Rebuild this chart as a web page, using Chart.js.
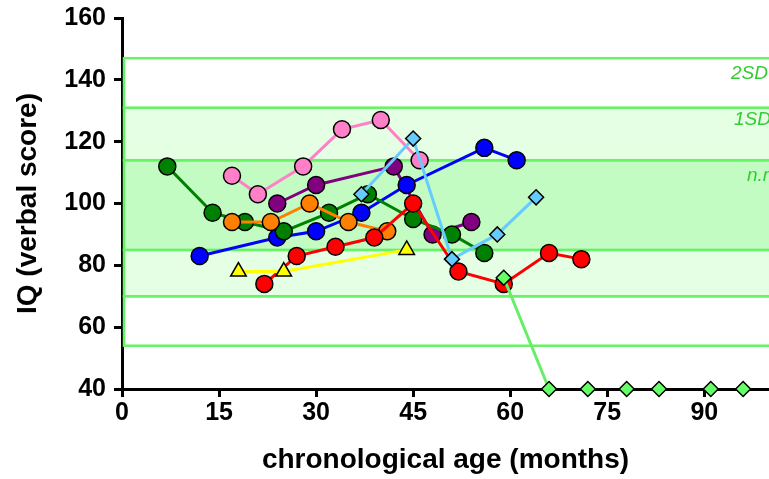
<!DOCTYPE html>
<html>
<head>
<meta charset="utf-8">
<script src="https://cdn.jsdelivr.net/npm/chart.js@4"></script>
<style>
  html, body { margin: 0; padding: 0; background: #fff; }
</style>
</head>
<body>
<canvas id="iqChart" width="769" height="479"></canvas>
<script>
// axis ticks
const xTicks = [0, 15, 30, 45, 60, 75, 90];
const yTicks = [40, 60, 80, 100, 120, 140, 160];

// reference bands (IQ ranges)
const bandLow = [54, 70, 85, 114, 131];
const bandHigh = [70, 85, 114, 131, 147];
const bandLabels = ["2SD", "1SD", "n.r."];
const bandLabelIQ = [142, 127, 109];

// one pair of arrays per child: age (months) and verbal IQ
const darkGreenAge = [7, 14, 19, 25, 32, 38, 45, 51, 56];
const darkGreenIQ = [112, 97, 94, 91, 97, 103, 95, 90, 84];
const orangeAge = [17, 23, 29, 35, 41];
const orangeIQ = [94, 94, 100, 94, 91];
const pinkAge = [17, 21, 28, 34, 40, 46];
const pinkIQ = [109, 103, 112, 124, 127, 114];
const purpleAge = [24, 30, 42, 48, 54];
const purpleIQ = [100, 106, 112, 90, 94];
const blueAge = [12, 24, 30, 37, 44, 56, 61];
const blueIQ = [83, 89, 91, 97, 106, 118, 114];
const redAge = [22, 27, 33, 39, 45, 52, 59, 66, 71];
const redIQ = [74, 83, 86, 89, 100, 78, 74, 84, 82];
const yellowAge = [18, 25, 44];
const yellowIQ = [78, 78, 85];
const lightBlueAge = [37, 45, 51, 58, 64];
const lightBlueIQ = [103, 121, 82, 90, 102];
const lightGreenAge = [59, 66, 72, 78, 83, 91, 96];
const lightGreenIQ = [76, 40, 40, 40, 40, 40, 40];

const FONT = "'Liberation Sans', Arial, Helvetica, sans-serif";

function pts(ages, iq) {
  return ages.map((a, i) => ({ x: a, y: iq[i] }));
}

function series(ages, iq, color, style, radius) {
  return {
    data: pts(ages, iq),
    borderColor: color,
    backgroundColor: color,
    borderWidth: 3,
    pointStyle: style,
    pointRadius: radius,
    pointBackgroundColor: color,
    pointBorderColor: "#000",
    pointBorderWidth: 1.5,
    clip: false,
  };
}

const lightGreen = series(lightGreenAge, lightGreenIQ, "#66ee66", "rectRot", 7.5);
lightGreen.pointBackgroundColor = "#66ff66";
// segments lying on the x axis are hidden under it
lightGreen.segment = {
  borderColor: (c) => (c.p0.parsed.y === 40 && c.p1.parsed.y === 40 ? "rgba(0,0,0,0)" : "#66ee66"),
};

const bandsPlugin = {
  id: "bands",
  beforeDatasetsDraw(chart) {
    const { ctx, chartArea, scales } = chart;
    const x0 = scales.x.getPixelForValue(0) + 2;
    const x1 = chartArea.right + 3;
    const fills = ["#ffffff", "#e4ffe4", "#c2fcc2", "#e4ffe4", "#ffffff"];
    ctx.save();
    bandLow.forEach((lo, i) => {
      const yTop = scales.y.getPixelForValue(bandHigh[i]);
      const yBot = scales.y.getPixelForValue(lo);
      ctx.fillStyle = fills[i];
      ctx.fillRect(x0, yTop, x1 - x0, yBot - yTop);
      ctx.strokeStyle = "#66f366";
      ctx.lineWidth = 2.5;
      ctx.strokeRect(x0, yTop, x1 - x0, yBot - yTop);
    });
    ctx.fillStyle = "#33cc33";
    ctx.font = "italic 19px " + FONT;
    ctx.textBaseline = "middle";
    ctx.textAlign = "left";
    const labelX = [731, 734, 747];
    bandLabels.forEach((t, i) => {
      ctx.fillText(t, labelX[i], scales.y.getPixelForValue(bandLabelIQ[i]));
    });
    ctx.restore();
  },
};

const tickFont = { family: FONT, size: 25, weight: "bold" };
const titleFont = { family: FONT, size: 28, weight: "bold" };

new Chart(document.getElementById("iqChart"), {
  type: "line",
  data: {
    datasets: [
      lightGreen,
      series(lightBlueAge, lightBlueIQ, "#66ccff", "rectRot", 7.5),
      series(yellowAge, yellowIQ, "#ffff00", "triangle", 9),
      series(redAge, redIQ, "#ff0000", "circle", 8.5),
      series(orangeAge, orangeIQ, "#ff8000", "circle", 8.5),
      series(darkGreenAge, darkGreenIQ, "#008000", "circle", 8.5),
      series(blueAge, blueIQ, "#0000ff", "circle", 8.5),
      series(purpleAge, purpleIQ, "#800080", "circle", 8.5),
      series(pinkAge, pinkIQ, "#ff80c8", "circle", 8.5),
    ],
  },
  options: {
    responsive: false,
    animation: false,
    devicePixelRatio: 1,
    layout: { autoPadding: false, padding: { top: 18, right: 0, left: 0, bottom: 0 } },
    plugins: {
      legend: { display: false },
      tooltip: { enabled: false },
    },
    scales: {
      x: {
        type: "linear",
        min: 0,
        max: 100,
        afterBuildTicks: (s) => { s.ticks = xTicks.map((v) => ({ value: v })); },
        afterFit: (s) => { s.height = 90; s.paddingRight = 0; s.paddingLeft = 0; },
        grid: { drawOnChartArea: false, drawTicks: true, tickLength: 8, lineWidth: 3, color: "#000" },
        border: { color: "#000", width: 3 },
        ticks: { color: "#000", font: tickFont, padding: 1, maxRotation: 0 },
        title: { display: true, text: "chronological age (months)", color: "#000", font: titleFont, padding: { top: 4, bottom: 2 } },
      },
      y: {
        min: 40,
        max: 160,
        afterBuildTicks: (s) => { s.ticks = yTicks.map((v) => ({ value: v })); },
        afterFit: (s) => { s.width = 122; s.paddingTop = 0; s.paddingBottom = 0; },
        grid: { drawOnChartArea: false, drawTicks: true, tickLength: 8, lineWidth: 3, color: "#000" },
        border: { color: "#000", width: 3 },
        ticks: { color: "#000", font: tickFont, padding: 8 },
        title: { display: true, text: "IQ (verbal score)", color: "#000", font: titleFont, padding: { top: 11, bottom: 4 } },
      },
    },
  },
  plugins: [bandsPlugin],
});
</script>
</body>
</html>
